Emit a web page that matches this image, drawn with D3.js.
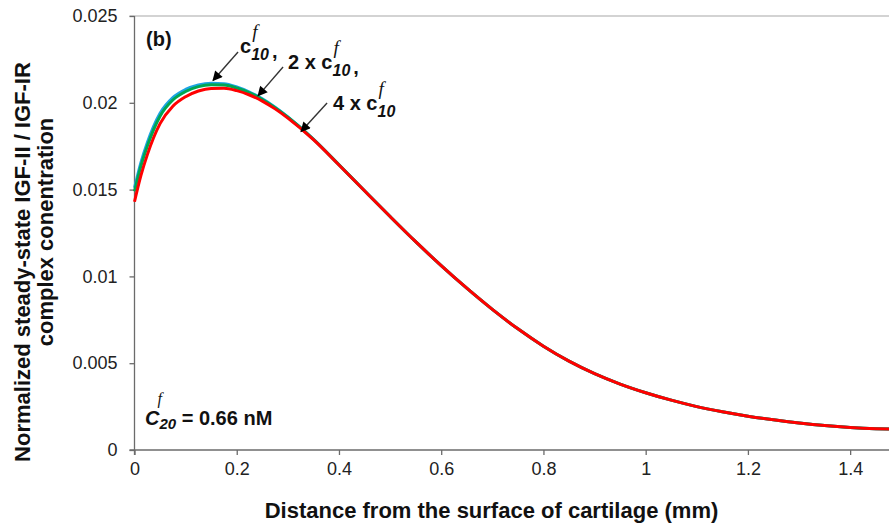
<!DOCTYPE html>
<html><head><meta charset="utf-8">
<script src="https://cdn.jsdelivr.net/npm/d3@7"></script>
<style>
html,body{margin:0;padding:0;background:#fff;}
svg{display:block;font-family:"Liberation Sans",Arial,sans-serif;}
</style></head>
<body><svg id="chart" width="889" height="528"></svg>
<script>
// ---- data ----
const distance = [0, 0.0125, 0.025, 0.05, 0.075, 0.1, 0.125, 0.15, 0.175, 0.2, 0.225, 0.25, 0.275, 0.3, 0.35, 0.4, 0.45, 0.5, 0.55, 0.6, 0.65, 0.7, 0.75, 0.8, 0.85, 0.9, 0.95, 1.0, 1.05, 1.1, 1.15, 1.2, 1.25, 1.3, 1.35, 1.4, 1.45, 1.476];
const conc1x = [0.0151, 0.01655, 0.0177, 0.0194, 0.0203, 0.02077, 0.02103, 0.02113, 0.02110, 0.02091, 0.02062, 0.02023, 0.01975, 0.01919, 0.01791, 0.01643, 0.01493, 0.01345, 0.01200, 0.01062, 0.00932, 0.00810, 0.00698, 0.00598, 0.00512, 0.00440, 0.00380, 0.00330, 0.00287, 0.00250, 0.00220, 0.00195, 0.00174, 0.00156, 0.00141, 0.00130, 0.00123, 0.00121];
const conc2x = [0.0149, 0.01635, 0.0175, 0.01923, 0.02016, 0.02065, 0.02093, 0.02104, 0.02102, 0.02085, 0.02057, 0.02019, 0.01972, 0.01917, 0.01790, 0.01643, 0.01493, 0.01345, 0.01200, 0.01062, 0.00932, 0.00810, 0.00698, 0.00598, 0.00512, 0.00440, 0.00380, 0.00330, 0.00287, 0.00250, 0.00220, 0.00195, 0.00174, 0.00156, 0.00141, 0.00130, 0.00123, 0.00121];
const conc4x = [0.0143, 0.0158, 0.0170, 0.0188, 0.0198, 0.02035, 0.02068, 0.02083, 0.02084, 0.02070, 0.02045, 0.02010, 0.01965, 0.01912, 0.01788, 0.01642, 0.01493, 0.01345, 0.01200, 0.01062, 0.00932, 0.00810, 0.00698, 0.00598, 0.00512, 0.00440, 0.00380, 0.00330, 0.00287, 0.00250, 0.00220, 0.00195, 0.00174, 0.00156, 0.00141, 0.00130, 0.00123, 0.00121];
const xTicks = [0, 0.2, 0.4, 0.6, 0.8, 1.0, 1.2, 1.4];
const xTickLabels = ["0", "0.2", "0.4", "0.6", "0.8", "1", "1.2", "1.4"];
const yTicks = [0, 0.005, 0.01, 0.015, 0.02, 0.025];
const yTickLabels = ["0", "0.005", "0.01", "0.015", "0.02", "0.025"];
const seriesColors = ["#1ca5e3", "#00a651", "#ff0000"];

// ---- layout ----
const svg = d3.select("#chart");
const margin = {left: 134.5, top: 16, right: 0, bottom: 78};
const W = 889, H = 528;
const x = d3.scaleLinear().domain([0, 1.476]).range([margin.left, W - margin.right]);
const y = d3.scaleLinear().domain([0, 0.025]).range([H - margin.bottom, margin.top]);

// top border line
svg.append("line").attr("x1", x(0) - 5).attr("x2", W).attr("y1", y(0.025)).attr("y2", y(0.025))
  .attr("stroke", "#c4c4c4").attr("stroke-width", 1.5);

// axes
const xAxis = d3.axisBottom(x).tickValues(xTicks).tickFormat((d, i) => xTickLabels[i]).tickSize(5).tickSizeOuter(0);
const gx = svg.append("g").attr("transform", `translate(0,${y(0)})`).call(xAxis);
gx.select(".domain").attr("stroke", "#6b6b6b").attr("stroke-width", 1.3).attr("d", `M${x(0)-5},0H${W}`);
gx.selectAll(".tick line").attr("stroke", "#6b6b6b").attr("stroke-width", 1.3);
gx.selectAll(".tick text").attr("font-size", 18).attr("fill", "#222").attr("font-family", "Liberation Sans, Arial, sans-serif").attr("y", 12).attr("dy", "0.71em");

const yAxis = d3.axisLeft(y).tickValues(yTicks).tickFormat((d, i) => yTickLabels[i]).tickSize(5).tickSizeOuter(0);
const gy = svg.append("g").attr("transform", `translate(${x(0)},0)`).call(yAxis);
gy.select(".domain").attr("stroke", "#6b6b6b").attr("stroke-width", 1.3).attr("d", `M0,${y(0)+5}V${y(0.025)}`);
gy.selectAll(".tick line").attr("stroke", "#6b6b6b").attr("stroke-width", 1.3);
gy.selectAll(".tick text").attr("font-size", 18).attr("fill", "#222").attr("font-family", "Liberation Sans, Arial, sans-serif").attr("x", -17);

// lines
const line = d3.line().x(d => x(d[0])).y(d => y(d[1])).curve(d3.curveMonotoneX);
[conc1x, conc2x, conc4x].forEach((vals, i) => {
  svg.append("path").datum(distance.map((d, j) => [d, vals[j]]))
    .attr("fill", "none").attr("stroke", seriesColors[i]).attr("stroke-width", 3)
    .attr("stroke-linejoin", "round").attr("d", line);
});

// axis titles
svg.append("text").attr("x", 491.5).attr("y", 518).attr("text-anchor", "middle")
  .attr("font-size", 22).attr("font-weight", "bold").attr("fill", "#111")
  .text("Distance from the surface of cartilage (mm)");
svg.append("text").attr("transform", "translate(30,262) rotate(-90)").attr("text-anchor", "middle")
  .attr("font-size", 22).attr("font-weight", "bold").attr("fill", "#111")
  .text("Normalized steady-state IGF-II / IGF-IR");
svg.append("text").attr("transform", "translate(53,232) rotate(-90)").attr("text-anchor", "middle")
  .attr("font-size", 22).attr("font-weight", "bold").attr("fill", "#111")
  .text("complex conentration");

// panel label
svg.append("text").attr("x", 146).attr("y", 46).attr("font-size", 20).attr("font-weight", "bold").attr("fill", "#111").text("(b)");

// arrow marker
svg.append("defs").append("marker").attr("id", "ah").attr("viewBox", "0 0 10 10")
  .attr("refX", 9).attr("refY", 5).attr("markerWidth", 12).attr("markerHeight", 10)
  .attr("markerUnits", "userSpaceOnUse").attr("orient", "auto")
  .append("path").attr("d", "M0,0L10,5L0,10Z").attr("fill", "#000");

// annotations (data coords)
const arrows = [
  {from: [0.2025, 0.02293], to: [0.1536, 0.02128]},
  {from: [0.2906, 0.02206], to: [0.2417, 0.02040]},
  {from: [0.3767, 0.01999], to: [0.3258, 0.01835]}
];
arrows.forEach(a => {
  svg.append("line").attr("x1", x(a.from[0])).attr("y1", y(a.from[1]))
    .attr("x2", x(a.to[0])).attr("y2", y(a.to[1]))
    .attr("stroke", "#333").attr("stroke-width", 1.4).attr("marker-end", "url(#ah)");
});

function cLabel(px, py, prefix, suffix, fs) {
  const t = svg.append("text").attr("x", px).attr("y", py).attr("font-size", fs)
    .attr("font-weight", "bold").attr("fill", "#111");
  t.append("tspan").text(prefix + "c");
  const w = t.node().getComputedTextLength();
  t.append("tspan").attr("font-size", 16).attr("font-style", "italic").attr("dy", 7).text("10");
  if (suffix) t.append("tspan").attr("dy", -2).attr("dx", 3).text(suffix);
  svg.append("text").attr("x", px + w + 1).attr("y", py - 15)
    .attr("font-family", "Liberation Serif, serif").attr("font-style", "italic")
    .attr("font-size", 19).attr("fill", "#111").text("f");
}
cLabel(240, 53, "", ",", 20);
cLabel(288, 69, "2 x ", ",", 20);
cLabel(333, 110, "4 x ", "", 20);

// C20 label
const ct = svg.append("text").attr("x", 145).attr("y", 425).attr("font-size", 20).attr("font-weight", "bold").attr("fill", "#111");
ct.append("tspan").attr("font-style", "italic").text("C");
const cw = ct.node().getComputedTextLength();
ct.append("tspan").attr("font-style", "italic").attr("font-size", 15).attr("dy", 4).text("20");
ct.append("tspan").attr("dy", -4).text(" = 0.66 nM");
svg.append("text").attr("x", 145 + cw - 2).attr("y", 404)
  .attr("font-family", "Liberation Serif, serif").attr("font-style", "italic")
  .attr("font-size", 16).attr("fill", "#111").text("f");
</script></body></html>
